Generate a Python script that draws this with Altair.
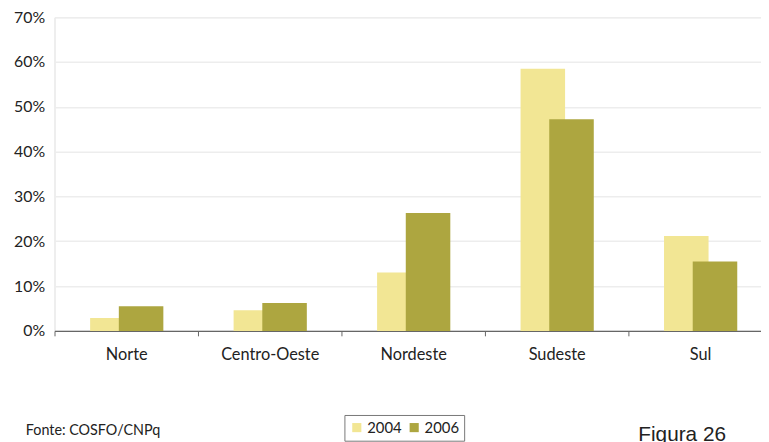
import altair as alt
import pandas as pd

regions = ["Norte", "Centro-Oeste", "Nordeste", "Sudeste", "Sul"]
v2004 = [0.029, 0.046, 0.130, 0.585, 0.212]
v2006 = [0.055, 0.062, 0.263, 0.472, 0.155]
years = ["2004", "2006"]
colors = ["#F2E694", "#ADA640"]
y_ticks = [0, 0.1, 0.2, 0.3, 0.4, 0.5, 0.6, 0.7]

rows = []
for r, a, b in zip(regions, v2004, v2006):
    rows.append({"regiao": r, "ano": "2004", "valor": a})
    rows.append({"regiao": r, "ano": "2006", "valor": b})
df = pd.DataFrame(rows)

FONT = "Lato"
W, H = 714, 317

x_enc = alt.X("regiao:N", sort=regions, title=None,
              scale=alt.Scale(range=[0, 725], paddingInner=0, paddingOuter=0),
              axis=alt.Axis(labelAngle=0, labelFontSize=16.5, labelColor="#222",
                            labelFont=FONT, labelPadding=11, tickBand="extent",
                            tickSize=5, tickColor="#666", domainColor="#666",
                            domainWidth=1.2, grid=False))
y_enc = alt.Y("valor:Q", title=None,
              scale=alt.Scale(domain=[0, 0.7], nice=False),
              axis=alt.Axis(format=".0%", values=y_ticks, labelFontSize=16,
                            labelColor="#222", labelFont=FONT, labelPadding=10,
                            domain=False, ticks=False, gridColor="#ededed",
                            gridWidth=1.5))
color_enc = alt.Color("ano:N", scale=alt.Scale(domain=years, range=colors),
                      legend=alt.Legend(title=None, orient="none", legendX=293,
                                        legendY=402, direction="horizontal",
                                        strokeColor="#777", padding=5,
                                        symbolType="square", symbolSize=85,
                                        symbolStrokeWidth=0, labelFontSize=15,
                                        labelFont=FONT, labelColor="#222",
                                        columnPadding=5, labelOffset=3))

base = alt.Chart(df)
bars04 = base.transform_filter(alt.datum.ano == "2004").mark_bar(
    width=45, xOffset=-14).encode(x=x_enc, y=y_enc, color=color_enc)
bars06 = base.transform_filter(alt.datum.ano == "2006").mark_bar(
    width=45, xOffset=15).encode(x=x_enc, y=y_enc, color=color_enc)

notes = pd.DataFrame({"t": ["Fonte: COSFO/CNPq"]})
fonte = alt.Chart(notes).mark_text(align="left", baseline="middle", fontSize=14.5,
                                   font=FONT, color="#222").encode(
    text="t:N", x=alt.value(-29), y=alt.value(418))
fig = alt.Chart(pd.DataFrame({"t": ["Figura 26"]})).mark_text(
    align="left", baseline="alphabetic", fontSize=21, font="Liberation Sans",
    color="#222").encode(text="t:N", x=alt.value(590), y=alt.value(428))

chart = alt.layer(bars04, bars06, fonte, fig).properties(
    width=W, height=H,
    autosize=alt.AutoSizeParams(type="none"),
    padding={"left": 47, "top": 7, "right": 0, "bottom": 110},
).configure_view(stroke=None).configure(background="white")

chart.save("out.html", embed_options={"renderer": "svg", "actions": False})
